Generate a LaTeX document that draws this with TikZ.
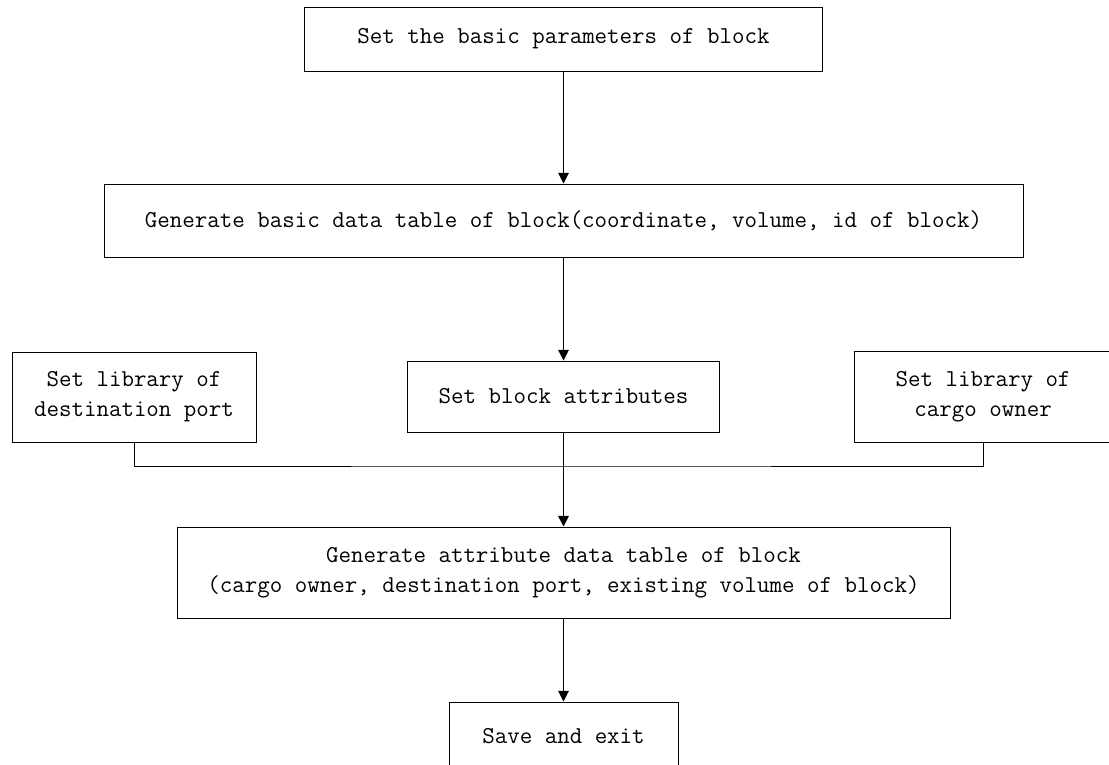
\documentclass[tikz,border=0pt]{standalone}
\usepackage{tikz}
\usetikzlibrary{arrows.meta}
\tikzset{every picture/.style={line width=0.75pt}}
\tikzset{
  stepbox/.style={draw, rectangle, inner sep=0.75pt, align=center,
    font=\ttfamily\fontsize{18.2}{22.5}\selectfont},
  flow/.style={-{Triangle[length=8pt,width=8pt]}}
}

\begin{document}
\begin{tikzpicture}[x=0.75pt,y=0.75pt,yscale=-1,xscale=1]
\useasboundingbox (0,0) rectangle (1109,764);

%Shape: Rectangle [basic parameters]
\node [stepbox, minimum width=388.5pt, minimum height=48pt] (setparam) at (563.5,39) {Set the basic parameters of block};
%Shape: Rectangle [basic data table]
\node [stepbox, minimum width=689.25pt, minimum height=54.75pt] (basictable) at (563.5,220.5) {Generate basic data table of block(coordinate, volume, id of block)};
%Shape: Rectangle [destination port library]
\node [stepbox, minimum width=183pt, minimum height=67.5pt] (portlib) at (134,397) {Set library of\\destination port};
%Shape: Rectangle [block attributes]
\node [stepbox, minimum width=234pt, minimum height=53.25pt] (attrset) at (563.5,396.5) {Set block attributes};
%Shape: Rectangle [cargo owner library]
\node [stepbox, minimum width=193.5pt, minimum height=68.25pt] (ownerlib) at (983,396.5) {Set library of\\cargo owner};
%Shape: Rectangle [attribute data table]
\node [stepbox, minimum width=579.75pt, minimum height=68.25pt] (attrtable) at (563.5,572.5) {Generate attribute data table of block\\(cargo owner, destination port, existing volume of block)};
%Shape: Rectangle [save]
\node [stepbox, minimum width=171.75pt, minimum height=51pt] (saveexit) at (563.5,736) {Save and exit};

\coordinate (join) at (563.5,466);

%Straight Lines
\draw [flow] (setparam) -- (basictable);
\draw [flow] (basictable) -- (attrset);
\draw (portlib.south) |- (join) -| (ownerlib.south);
\draw (attrset) -- (join);
\draw [flow, line width=1.2pt] (join) -- (attrtable);
\draw [flow] (attrtable) -- (saveexit);
\end{tikzpicture}
\end{document}
